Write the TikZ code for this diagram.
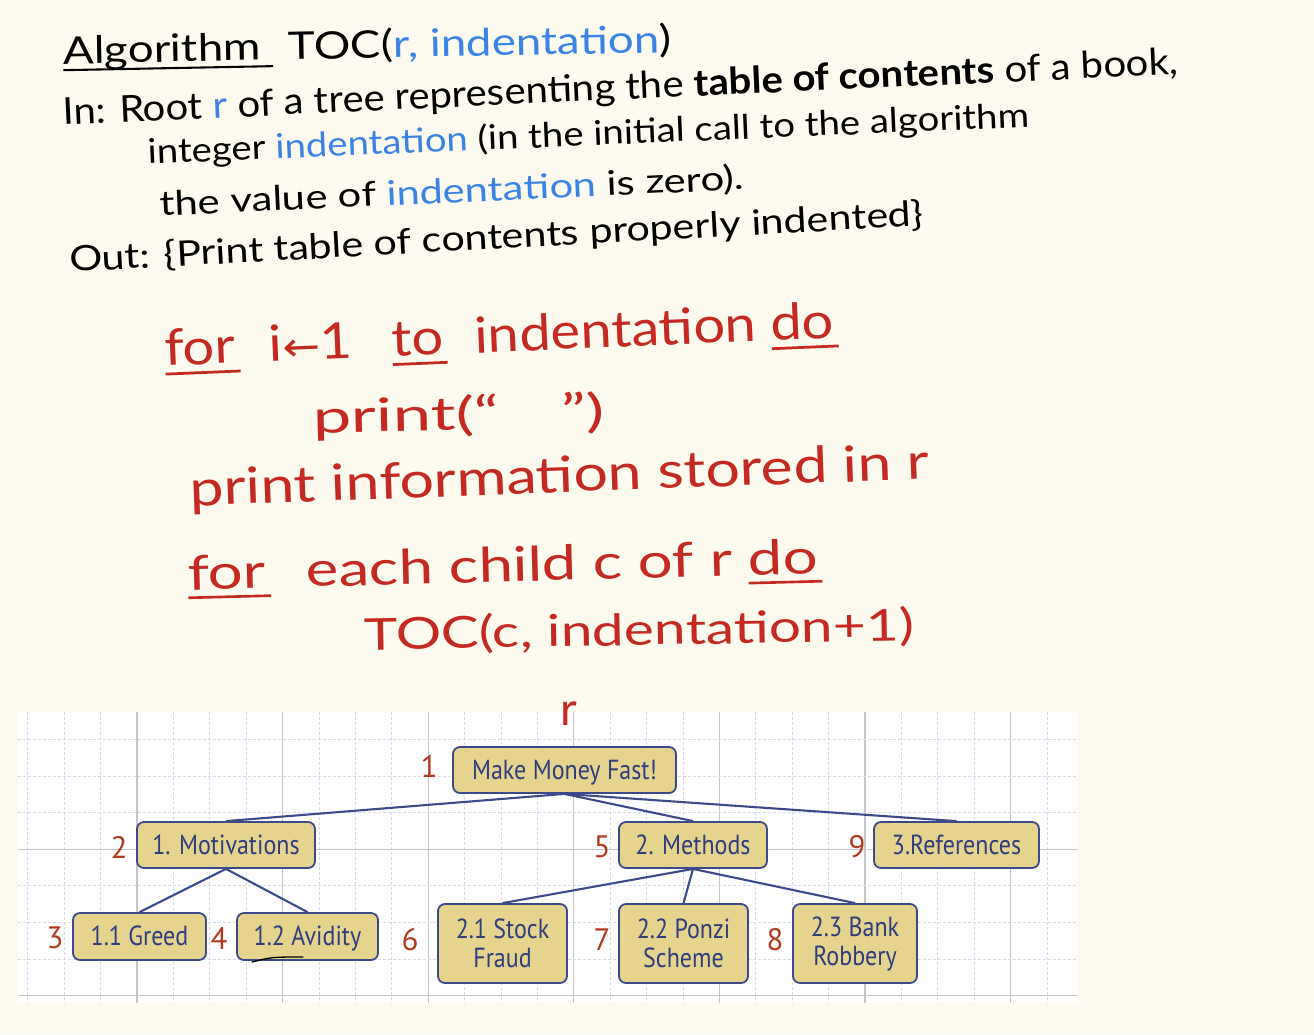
\documentclass[tikz,border=0pt]{standalone}
\usepackage{fontspec}
\usepackage{graphicx}
\setmainfont{Lato}
\newfontfamily\boxfont{PT Sans}
\newfontfamily\arrfont{DejaVu Sans}
\definecolor{bgc}{HTML}{FDFBEF}
\definecolor{minorc}{HTML}{D6DAEC}
\definecolor{majorc}{HTML}{C6C6CA}
\definecolor{boxfill}{HTML}{E6D48E}
\definecolor{boxdraw}{HTML}{3C4A8C}
\definecolor{boxtext}{HTML}{2F3C7E}
\definecolor{numred}{HTML}{B23A1E}
\definecolor{hwred}{HTML}{C42A20}
\definecolor{hwblue}{HTML}{3A84E8}
\tikzset{
  tbox/.style={draw=boxdraw, fill=boxfill, line width=1.8pt, rounded corners=7pt,
    text=boxtext, font=\boxfont\fontsize{24}{29}\selectfont, align=center, inner sep=0pt},
  onebox/.style={tbox, text height=20pt, text depth=2pt},
  edge/.style={draw=boxdraw, line width=2.1pt},
  num/.style={text=numred, font=\boxfont\fontsize{31}{31}\selectfont, inner sep=0pt},
  hwblack/.style={text=black, anchor=base west, inner sep=0pt},
  hwred/.style={text=hwred, anchor=base west, inner sep=0pt},
}
\newlength\ulw
\newcommand{\bl}[1]{\textcolor{hwblue}{#1}}
\newcommand{\ulx}[1]{\settowidth{\ulw}{#1}\rlap{\rule[-0.19em]{1.06\ulw}{0.055em}}#1}
\newcommand{\tb}[1]{\scalebox{1}[1.15]{#1}}
\newcommand{\fs}[1]{\fontsize{#1}{#1}\selectfont}
\begin{document}
\begin{tikzpicture}[x=1pt,y=-1pt]
\useasboundingbox (0,0) rectangle (1314,1034);
\fill[bgc] (0,0) rectangle (1314,1034);
% grid panel
\fill[white] (18,712) rectangle (1078,1003);
\foreach \k in {0,...,28}{
  \pgfmathsetmacro{\xx}{27.8+36.4*\k}
  \pgfmathtruncatemacro{\mm}{mod(\k,4)}
  \ifnum\mm=3
    \draw[majorc, line width=1.1pt] (\xx,712) -- (\xx,1003);
  \else
    \draw[minorc, line width=0.8pt, dash pattern=on 3pt off 2pt] (\xx,712) -- (\xx,1003);
  \fi
}
\foreach \k in {0,...,7}{
  \pgfmathsetmacro{\yy}{739.3+36.6*\k}
  \ifnum\k=3
    \draw[majorc, line width=1.1pt] (18,\yy) -- (1078,\yy);
  \else\ifnum\k=7
    \draw[majorc, line width=1.1pt] (18,\yy) -- (1078,\yy);
  \else
    \draw[minorc, line width=0.8pt, dash pattern=on 3pt off 2pt] (18,\yy) -- (1078,\yy);
  \fi\fi
}
% tree nodes
\node[onebox, minimum width=223pt, minimum height=46pt] (root) at (564.5,770) {\tb{Make Money Fast!}};
\node[onebox, minimum width=178pt, minimum height=46pt] (mot) at (226,845) {\tb{1. Motivations}};
\node[onebox, minimum width=148pt, minimum height=46pt] (met) at (693,845) {\tb{2. Methods}};
\node[onebox, minimum width=165pt, minimum height=46pt] (ref) at (956.5,845) {\tb{3.References}};
\node[onebox, minimum width=133pt, minimum height=47pt] (greed) at (139.5,936.5) {\tb{1.1 Greed}};
\node[onebox, minimum width=141pt, minimum height=47pt] (avid) at (307.5,936.5) {\tb{1.2 Avidity}};
\node[tbox, minimum width=129pt, minimum height=79pt] (stock) at (502.5,943.5) {\tb{2.1 Stock}\\\tb{Fraud}};
\node[tbox, minimum width=129pt, minimum height=79pt] (ponzi) at (683.5,943.5) {\tb{2.2 Ponzi}\\\tb{Scheme}};
\node[tbox, minimum width=124pt, minimum height=79pt] (bank) at (855,943.5) {\tb{2.3 Bank}\\\tb{Robbery}};
% edges
\draw[edge] (root.south) -- (mot.north);
\draw[edge] (root.south) -- (met.north);
\draw[edge] (root.south) -- (ref.north);
\draw[edge] (mot.south) -- (greed.north);
\draw[edge] (mot.south) -- (avid.north);
\draw[edge] (met.south) -- (stock.north);
\draw[edge] (met.south) -- (ponzi.north);
\draw[edge] (met.south) -- (bank.north);
% order numbers
\node[num] (n1) at (429,766) {1};
\node[num] (n2) at (119,847) {2};
\node[num] (n3) at (55,938) {3};
\node[num] (n4) at (219,938) {4};
\node[num] (n5) at (602,847) {5};
\node[num] (n6) at (410,940) {6};
\node[num] (n7) at (602,940) {7};
\node[num] (n8) at (775,940) {8};
\node[num] (n9) at (857,847) {9};
\node[text=hwred, font=\fs{46}, inner sep=0pt] (rlab) at (569,714) {r};
\draw[hwred, line width=1.3pt, line cap=round] (252,962) .. controls (272,957) .. (303,957);
% header handwriting
\node[hwblack, rotate=1.1, font=\fs{38}] (l1) at (63,64) {\resizebox{609pt}{\height}{\ulx{Algorithm}\hspace{0.6em}TOC(\bl{r, indentation})}};
\node[hwblack, rotate=2.6, font=\fs{37}] (l2) at (63,125) {\resizebox{1117pt}{\height}{In: Root \bl{r} of a tree representing the \textbf{table of contents} of a book,}};
\node[hwblack, rotate=2.4, font=\fs{34}] (l3) at (148,164) {\resizebox{882pt}{\height}{integer \bl{indentation} (in the initial call to the algorithm}};
\node[hwblack, rotate=2.6, font=\fs{34}] (l4) at (160,216) {\resizebox{585pt}{\height}{the value of \bl{indentation} is zero).}};
\node[hwblack, rotate=3.1, font=\fs{35}] (l5) at (70,272) {\resizebox{855pt}{\height}{Out: \{Print table of contents properly indented\}}};
% red pseudocode
\node[hwred, rotate=2.4, font=\fs{50}] (r1) at (165,366) {\resizebox{670pt}{\height}{\ulx{for}\hspace{0.6em}i{\arrfont\fontsize{40}{40}\selectfont ←}1\hspace{0.7em}\ulx{to}\hspace{0.3em} indentation \ulx{do}}};
\node[hwred, rotate=1.2, font=\fs{46}] (r2) at (313,433) {\resizebox{292pt}{\height}{print(\textquotedblleft\hspace{0.9em}\textquotedblright)}};
\node[hwred, rotate=2.1, font=\fs{50}] (r3) at (190,506) {\resizebox{740pt}{\height}{print information stored in r}};
\node[hwred, rotate=1.5, font=\fs{48}] (r4) at (188,590) {\resizebox{630pt}{\height}{\ulx{for}\hspace{0.4em} each child c of r \ulx{do}}};
\node[hwred, rotate=1.0, font=\fs{44}] (r5) at (364,650) {\resizebox{550pt}{\height}{TOC(c, indentation+1)}};
\end{tikzpicture}
\end{document}
